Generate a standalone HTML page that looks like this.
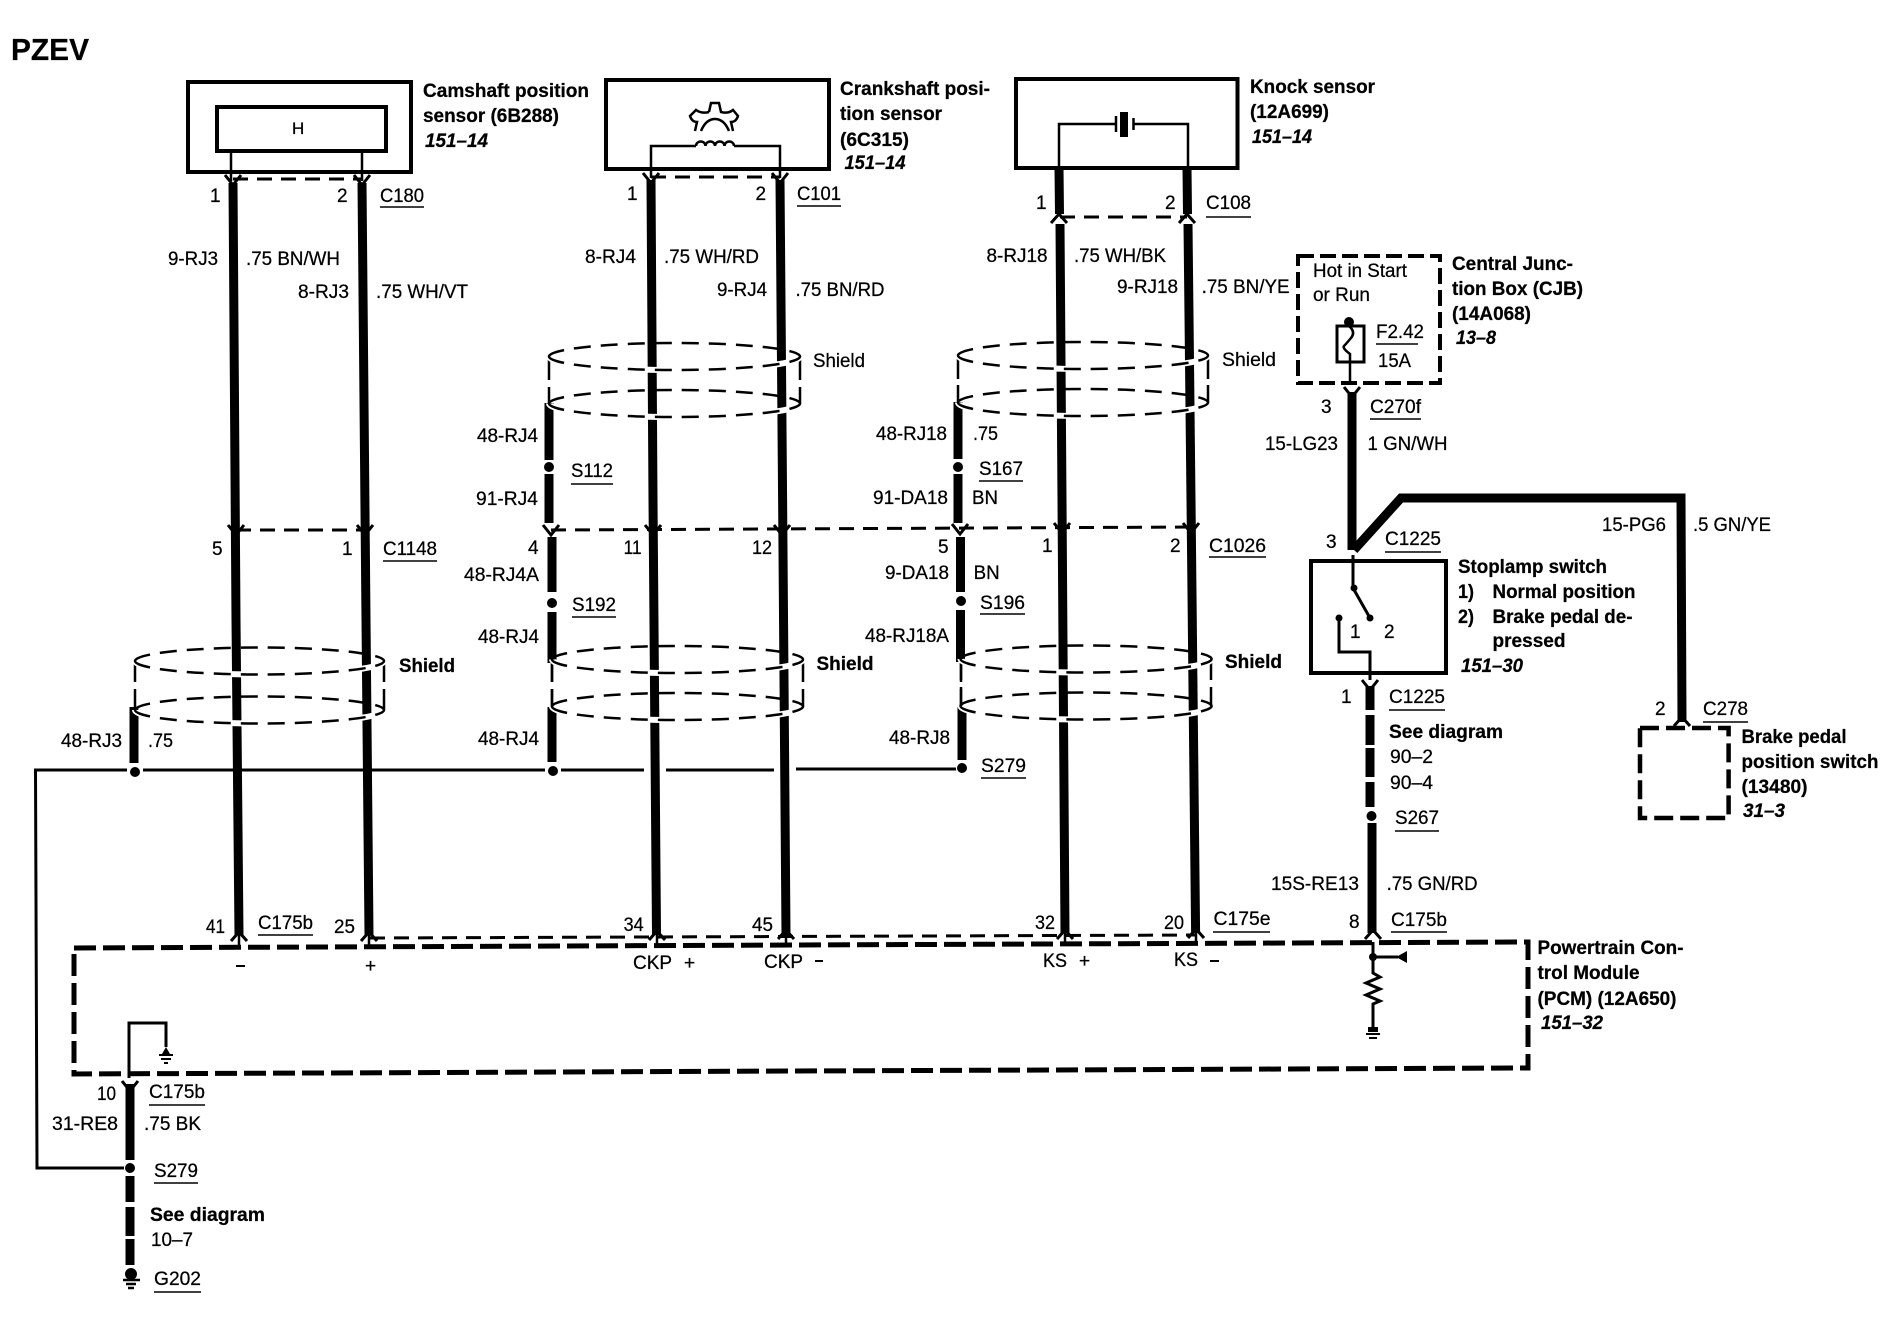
<!DOCTYPE html>
<html><head><meta charset="utf-8"><title>PZEV wiring diagram</title>
<style>
html,body{margin:0;padding:0;background:#fff}
svg{display:block}
text{font-family:"Liberation Sans",sans-serif;font-size:19px;fill:#000;stroke:#000;stroke-width:.25}
.b{font-weight:bold}
.i{font-weight:bold;font-style:italic}
.w{fill:none;stroke:#000;stroke-width:9}
.t{fill:none;stroke:#000;stroke-width:2.5}
.c{fill:none;stroke:#000;stroke-width:3;stroke-dasharray:15 9}
.a{fill:none;stroke:#000;stroke-width:3}
.d{fill:none;stroke:#000;stroke-width:2.5;stroke-dasharray:17 10}
.g{fill:none;stroke:#fff;stroke-width:6}
.u{stroke:#000;stroke-width:1.5}
</style></head><body>
<svg xmlns="http://www.w3.org/2000/svg" width="1896" height="1344" viewBox="0 0 1896 1344">
<rect width="1896" height="1344" fill="#fff"/>

<!-- shield back arcs and side lines -->
<g>
<path class="d" d="M549 356.5A125.5 13.5 0 0 1 800 356.5M549 403.5A125.5 13.5 0 0 1 800 403.5"/>
<path class="t" d="M549 356V380M549 387V404M800 356V380M800 387V404"/>
<path class="d" d="M958 355.5A125 13.5 0 0 1 1208 355.5M958 402.5A125 13.5 0 0 1 1208 402.5"/>
<path class="t" d="M958 356V379M958 385V403M1208 356V379M1208 385V403"/>
<path class="d" d="M135 661A124.500 13.500 0 0 1 384 661M135 710A124.500 13.500 0 0 1 384 710"/>
<path class="t" d="M135 661V682M135 689V710M384 661V682M384 689V710"/>
<path class="d" d="M552 659.500A125.500 13.500 0 0 1 803 659.500M552 706.500A125.500 13.500 0 0 1 803 706.500"/>
<path class="t" d="M552 660V682M552 689V707M803 660V682M803 689V707"/>
<path class="d" d="M960.500 659A125.500 13.500 0 0 1 1211.600 659M960.500 706A125.500 13.500 0 0 1 1211.600 706"/>
<path class="t" d="M961 659V680M961 687V706M1211 659V680M1211 687V706"/>
</g>

<!-- main wires -->
<polyline class="w" points="233,183 236,620 239,935"/>
<polyline class="w" points="362,183 366,620 369,935"/>
<polyline class="w" points="651,180 653,500 656.500,935"/>
<polyline class="w" points="780,180 782.600,500 786,935"/>
<polyline class="w" points="1059,168 1059.500,214"/>
<polyline class="w" points="1187,168 1187.500,214"/>
<polyline class="w" points="1060,224 1062,500 1065,933"/>
<polyline class="w" points="1188,224 1191,500 1195.600,933"/>

<!-- shield stubs -->
<path class="w" d="M134 707V763M549 403V460M549 474V523M552 537V592M552 612V663M552 707V762M958 402V459M958 474V523M960.500 537V592M960.500 610V662M962 707V760"/>
<path class="t" d="M552 663V682M552 689V707M961 663V682M961 689V707"/>
<circle cx="549" cy="467" r="5"/><circle cx="552" cy="603" r="5"/><circle cx="958" cy="467" r="5"/><circle cx="961" cy="601" r="5"/>

<!-- shield front arcs -->
<path class="g" d="M549 356.500A125.500 13.500 0 0 0 800 356.500M549 403.500A125.500 13.500 0 0 0 800 403.500M958 355.500A125 13.500 0 0 0 1208 355.500M958 402.500A125 13.500 0 0 0 1208 402.500M135 661A124.500 13.500 0 0 0 384 661M135 710A124.500 13.500 0 0 0 384 710M552 659.500A125.500 13.500 0 0 0 803 659.500M552 706.500A125.500 13.500 0 0 0 803 706.500M960.500 659A125.500 13.500 0 0 0 1211.600 659M960.500 706A125.500 13.500 0 0 0 1211.600 706"/>
<path class="d" d="M549 356.500A125.500 13.500 0 0 0 800 356.500M549 403.500A125.500 13.500 0 0 0 800 403.500M958 355.500A125 13.500 0 0 0 1208 355.500M958 402.500A125 13.500 0 0 0 1208 402.500M135 661A124.500 13.500 0 0 0 384 661M135 710A124.500 13.500 0 0 0 384 710M552 659.500A125.500 13.500 0 0 0 803 659.500M552 706.500A125.500 13.500 0 0 0 803 706.500M960.500 659A125.500 13.500 0 0 0 1211.600 659M960.500 706A125.500 13.500 0 0 0 1211.600 706"/>

<!-- shield drain bus -->
<path class="t" style="stroke-width:3" d="M124 1168H37L35.500 770H127M143 770H545M561 770H644M666 770H774M796 769H956"/>
<circle cx="135" cy="772" r="5"/><circle cx="553" cy="771" r="5"/><circle cx="962" cy="768" r="5"/>

<!-- sensor boxes -->
<rect x="188" y="82" width="223" height="90" fill="none" stroke="#000" stroke-width="4"/>
<rect x="217" y="107" width="169" height="44" fill="none" stroke="#000" stroke-width="4"/>
<path class="t" d="M231 151V181M362 151V181"/>
<rect x="606" y="80" width="223" height="89" fill="none" stroke="#000" stroke-width="4"/>
<path class="t" d="M651 178V146H696M734 146H780V178"/>
<path class="t" d="M696 146a4.700 4.500 0 0 1 9.500 0a4.700 4.500 0 0 1 9.500 0a4.700 4.500 0 0 1 9.500 0a4.700 4.500 0 0 1 9.500 0"/>
<path class="t" d="M709 112L711 103H719L721 112Q728 114 733 110L738 116Q736 122 731 122L733 131M709 112Q702 114 696 110L690 116Q692 122 697 122L695 131M701 131Q706 119 715 119Q724 119 729 131"/>
<rect x="1016" y="79" width="221.500" height="89" fill="none" stroke="#000" stroke-width="4"/>
<path class="t" d="M1059 168V124H1116M1133.500 124H1188V168M1116 116V132M1133.500 118V130"/>
<rect x="1120" y="112" width="8" height="25"/>

<!-- connectors -->
<path class="c" d="M233 179H362M651 177H780M1060 217H1187M236 530H365M551 530L1195 527M370 938L1196 935"/>
<path class="a" d="M225 175l8 10 8 -10M354 175l8 10 8 -10M643 173l8 10 8 -10M772 173l8 10 8 -10M228 525l8 10 8 -10M357 525l8 10 8 -10M543 525l8 10 8 -10M645 525l8 10 8 -10M774 525l8 10 8 -10M952 524l8 10 8 -10M1054 523l8 10 8 -10M1183 523l8 10 8 -10M1344 387l8 10 8 -10M1362 680l8 10 8 -10M122 1081l8 10 8 -10"/>
<path class="a" d="M1051 223l8 -9 8 9M1179 223l8 -9 8 9M231 941l8 -9 8 9M361 941l8 -9 8 9M649 940l8 -9 8 9M778 939l8 -9 8 9M1057 939l8 -9 8 9M1188 938l8 -9 8 9M1365 939l8 -9 8 9M1674 726l8 -9 8 9"/>
<path class="t" d="M239 935V948M369 935V947M657 935V946M786 935V946M1065 933V945M1196 933V945"/>

<!-- PCM box -->
<polygon points="74,948 1528,942 1528,1068 74,1074" fill="none" stroke="#000" stroke-width="5" stroke-dasharray="22 7"/>
<path class="t" style="stroke-width:3" d="M129 1078V1023H166V1047"/>
<path d="M162 1054l4 -7 4 7z"/><path class="u" style="stroke-width:2" d="M159 1055H173M161 1059H171M164 1063H168"/>
<path class="t" style="stroke-width:3" d="M1373 942V973l7 4 -14 6 14 6 -14 6 14 6 -7 3V1027"/>
<circle cx="1373" cy="957" r="4"/><path class="t" style="stroke-width:3" d="M1373 957H1398"/><polygon points="1396,957 1407,951 1407,963"/>
<rect x="1368" y="1027" width="10" height="5"/><path class="u" style="stroke-width:2" d="M1366 1034H1380M1369 1038H1377"/>

<!-- CJB -->
<rect x="1298" y="256" width="142" height="127" fill="none" stroke="#000" stroke-width="4" stroke-dasharray="16 6"/>
<rect x="1337" y="326" width="27" height="36" fill="none" stroke="#000" stroke-width="3"/>
<circle cx="1349" cy="322" r="5"/>
<path class="t" d="M1349 326q7 6 2 12t-7 8 6 8V384"/>
<path class="w" d="M1352 392V550"/>
<path class="w" d="M1354 550L1401 498H1681L1682 722"/>

<!-- stoplamp -->
<rect x="1311" y="561" width="135" height="112" fill="none" stroke="#000" stroke-width="4"/>
<path class="t" style="stroke-width:3" d="M1353 555V588L1370 618M1339 618V652H1370V680"/>
<circle cx="1354" cy="588" r="3.500"/><circle cx="1370" cy="618" r="3.500"/><circle cx="1339" cy="618" r="3.500"/>
<path class="w" d="M1370 686V710M1370 715V745M1370 748V777M1370 782V807M1372 823V933"/>
<circle cx="1371.500" cy="816" r="5"/>

<!-- brake switch -->
<rect x="1640" y="728" width="88.600" height="90" fill="none" stroke="#000" stroke-width="4.500" stroke-dasharray="19 7"/>

<!-- bottom-left ground wire -->
<path class="w" d="M130 1084V1160M130 1176V1202M130 1207V1236M130 1239V1265"/>
<circle cx="130" cy="1168" r="5"/><circle cx="131" cy="1274" r="6"/>
<path class="u" style="stroke-width:2.500" d="M123 1280H140M126 1284H136M128 1288H134"/>

<!-- underlines -->
<path class="u" d="M380 207H424M797 206H841M1206 217H1251M383 561H437M1209 557H1266M572 617H616M980 614H1025M571 484H613M979 481H1023M981 778H1026M258 935H313M1213 932H1270M1370 419H1421M1385 552H1441M1389 710H1445M1395 831H1439M1391 932H1447M1703 722H1748M149 1105H205M154 1183H198M154 1292H201M1376 344H1418"/>

<!-- minus signs -->
<path class="u" style="stroke-width:2" d="M236 966H245M815 961H823M1210 961H1219"/>

<!-- titles -->
<text class="b" style="font-size:31px" x="11" y="60" textLength="78" lengthAdjust="spacingAndGlyphs">PZEV</text>
<text class="b" x="423" y="97" textLength="166" lengthAdjust="spacingAndGlyphs">Camshaft position</text>
<text class="b" x="423" y="122" textLength="136" lengthAdjust="spacingAndGlyphs">sensor (6B288)</text>
<text class="i" x="425" y="147" textLength="63" lengthAdjust="spacingAndGlyphs">151–14</text>
<text x="292" y="134" style="font-size:17px">H</text>
<text class="b" x="840" y="95" textLength="150" lengthAdjust="spacingAndGlyphs">Crankshaft posi-</text>
<text class="b" x="840" y="120" textLength="102" lengthAdjust="spacingAndGlyphs">tion sensor</text>
<text class="b" x="840" y="146" textLength="69" lengthAdjust="spacingAndGlyphs">(6C315)</text>
<text class="i" x="844.500" y="169" textLength="61" lengthAdjust="spacingAndGlyphs">151–14</text>
<text class="b" x="1250" y="93" textLength="125" lengthAdjust="spacingAndGlyphs">Knock sensor</text>
<text class="b" x="1250" y="118" textLength="79" lengthAdjust="spacingAndGlyphs">(12A699)</text>
<text class="i" x="1252" y="143" textLength="60" lengthAdjust="spacingAndGlyphs">151–14</text>
<text class="b" x="1452" y="270" textLength="121" lengthAdjust="spacingAndGlyphs">Central Junc-</text>
<text class="b" x="1452" y="295" textLength="131" lengthAdjust="spacingAndGlyphs">tion Box (CJB)</text>
<text class="b" x="1452" y="320" textLength="79" lengthAdjust="spacingAndGlyphs">(14A068)</text>
<text class="i" x="1456" y="344" textLength="40" lengthAdjust="spacingAndGlyphs">13–8</text>
<text x="1313" y="277" textLength="94" lengthAdjust="spacingAndGlyphs">Hot in Start</text>
<text x="1313" y="301" textLength="57" lengthAdjust="spacingAndGlyphs">or Run</text>
<text x="1376" y="338" textLength="48" lengthAdjust="spacingAndGlyphs">F2.42</text>
<text x="1378" y="367" textLength="33" lengthAdjust="spacingAndGlyphs">15A</text>
<text class="b" x="1458" y="573" textLength="149" lengthAdjust="spacingAndGlyphs">Stoplamp switch</text>
<text class="b" x="1458" y="598" textLength="16" lengthAdjust="spacingAndGlyphs">1)</text>
<text class="b" x="1492.500" y="598" textLength="143" lengthAdjust="spacingAndGlyphs">Normal position</text>
<text class="b" x="1458" y="623" textLength="16" lengthAdjust="spacingAndGlyphs">2)</text>
<text class="b" x="1492.500" y="623" textLength="140" lengthAdjust="spacingAndGlyphs">Brake pedal de-</text>
<text class="b" x="1492.500" y="647" textLength="73" lengthAdjust="spacingAndGlyphs">pressed</text>
<text class="i" x="1461" y="672" textLength="62" lengthAdjust="spacingAndGlyphs">151–30</text>
<text class="b" x="1537.500" y="954" textLength="146" lengthAdjust="spacingAndGlyphs">Powertrain Con-</text>
<text class="b" x="1537.500" y="979" textLength="102" lengthAdjust="spacingAndGlyphs">trol Module</text>
<text class="b" x="1537.500" y="1005" textLength="139" lengthAdjust="spacingAndGlyphs">(PCM) (12A650)</text>
<text class="i" x="1541" y="1029" textLength="62" lengthAdjust="spacingAndGlyphs">151–32</text>
<text class="b" x="1741.500" y="743" textLength="105" lengthAdjust="spacingAndGlyphs">Brake pedal</text>
<text class="b" x="1741.500" y="768" textLength="137" lengthAdjust="spacingAndGlyphs">position switch</text>
<text class="b" x="1741.500" y="793" textLength="66" lengthAdjust="spacingAndGlyphs">(13480)</text>
<text class="i" x="1743" y="817" textLength="42" lengthAdjust="spacingAndGlyphs">31–3</text>

<!-- column 1 labels -->
<text x="210" y="202">1</text><text x="337" y="202">2</text>
<text x="380" y="202" textLength="44" lengthAdjust="spacingAndGlyphs">C180</text>
<text x="168" y="265" textLength="50" lengthAdjust="spacingAndGlyphs">9-RJ3</text>
<text x="246" y="265" textLength="94" lengthAdjust="spacingAndGlyphs">.75 BN/WH</text>
<text x="298" y="298" textLength="51" lengthAdjust="spacingAndGlyphs">8-RJ3</text>
<text x="376" y="298" textLength="92" lengthAdjust="spacingAndGlyphs">.75 WH/VT</text>
<text x="212" y="555">5</text><text x="342" y="555">1</text>
<text x="383" y="555" textLength="54" lengthAdjust="spacingAndGlyphs">C1148</text>
<text class="b" x="399" y="672" textLength="56" lengthAdjust="spacingAndGlyphs">Shield</text>
<text x="61" y="747" textLength="61" lengthAdjust="spacingAndGlyphs">48-RJ3</text>
<text x="148" y="747" textLength="25" lengthAdjust="spacingAndGlyphs">.75</text>
<text x="206" y="933" textLength="19" lengthAdjust="spacingAndGlyphs">41</text>
<text x="258" y="929" textLength="55" lengthAdjust="spacingAndGlyphs">C175b</text>
<text x="334" y="933" textLength="21" lengthAdjust="spacingAndGlyphs">25</text>
<text x="365" y="972">+</text>

<!-- column 2 labels -->
<text x="627" y="200">1</text><text x="755.500" y="200">2</text>
<text x="797" y="200" textLength="44" lengthAdjust="spacingAndGlyphs">C101</text>
<text x="585" y="263" textLength="51" lengthAdjust="spacingAndGlyphs">8-RJ4</text>
<text x="664" y="263" textLength="95" lengthAdjust="spacingAndGlyphs">.75 WH/RD</text>
<text x="717" y="296" textLength="50" lengthAdjust="spacingAndGlyphs">9-RJ4</text>
<text x="795.500" y="296" textLength="89" lengthAdjust="spacingAndGlyphs">.75 BN/RD</text>
<text x="813" y="367" textLength="52" lengthAdjust="spacingAndGlyphs">Shield</text>
<text x="477" y="442" textLength="61" lengthAdjust="spacingAndGlyphs">48-RJ4</text>
<text x="571" y="477" textLength="42" lengthAdjust="spacingAndGlyphs">S112</text>
<text x="476" y="505" textLength="62" lengthAdjust="spacingAndGlyphs">91-RJ4</text>
<text x="528" y="554">4</text>
<text x="623.600" y="554" textLength="18" lengthAdjust="spacingAndGlyphs">11</text>
<text x="752" y="554" textLength="20" lengthAdjust="spacingAndGlyphs">12</text>
<text x="464" y="581" textLength="75" lengthAdjust="spacingAndGlyphs">48-RJ4A</text>
<text x="572" y="611" textLength="44" lengthAdjust="spacingAndGlyphs">S192</text>
<text x="478" y="643" textLength="61" lengthAdjust="spacingAndGlyphs">48-RJ4</text>
<text class="b" x="816.500" y="670" textLength="57" lengthAdjust="spacingAndGlyphs">Shield</text>
<text x="478" y="745" textLength="61" lengthAdjust="spacingAndGlyphs">48-RJ4</text>
<text x="623.600" y="931" textLength="20" lengthAdjust="spacingAndGlyphs">34</text>
<text x="752" y="931" textLength="21" lengthAdjust="spacingAndGlyphs">45</text>
<text x="633" y="969" textLength="39" lengthAdjust="spacingAndGlyphs">CKP</text><text x="684" y="969">+</text>
<text x="764" y="968" textLength="39" lengthAdjust="spacingAndGlyphs">CKP</text>

<!-- column 3 labels -->
<text x="1036" y="209">1</text><text x="1165" y="209">2</text>
<text x="1206" y="209" textLength="45" lengthAdjust="spacingAndGlyphs">C108</text>
<text x="986.500" y="262" textLength="61" lengthAdjust="spacingAndGlyphs">8-RJ18</text>
<text x="1074" y="262" textLength="92" lengthAdjust="spacingAndGlyphs">.75 WH/BK</text>
<text x="1117" y="293" textLength="61" lengthAdjust="spacingAndGlyphs">9-RJ18</text>
<text x="1201.600" y="293" textLength="88" lengthAdjust="spacingAndGlyphs">.75 BN/YE</text>
<text x="1222" y="366" textLength="54" lengthAdjust="spacingAndGlyphs">Shield</text>
<text x="876" y="440" textLength="71" lengthAdjust="spacingAndGlyphs">48-RJ18</text>
<text x="973" y="440" textLength="25" lengthAdjust="spacingAndGlyphs">.75</text>
<text x="979" y="475" textLength="44" lengthAdjust="spacingAndGlyphs">S167</text>
<text x="873" y="504" textLength="75" lengthAdjust="spacingAndGlyphs">91-DA18</text>
<text x="972" y="504" textLength="26" lengthAdjust="spacingAndGlyphs">BN</text>
<text x="938" y="553">5</text><text x="1042" y="552">1</text><text x="1170" y="552">2</text>
<text x="1209" y="552" textLength="57" lengthAdjust="spacingAndGlyphs">C1026</text>
<text x="885" y="579" textLength="64" lengthAdjust="spacingAndGlyphs">9-DA18</text>
<text x="973.600" y="579" textLength="26" lengthAdjust="spacingAndGlyphs">BN</text>
<text x="980" y="609" textLength="45" lengthAdjust="spacingAndGlyphs">S196</text>
<text x="865" y="642" textLength="84" lengthAdjust="spacingAndGlyphs">48-RJ18A</text>
<text class="b" x="1225" y="668" textLength="57" lengthAdjust="spacingAndGlyphs">Shield</text>
<text x="889" y="744" textLength="61" lengthAdjust="spacingAndGlyphs">48-RJ8</text>
<text x="981" y="772" textLength="45" lengthAdjust="spacingAndGlyphs">S279</text>
<text x="1035" y="929" textLength="20" lengthAdjust="spacingAndGlyphs">32</text>
<text x="1164" y="929" textLength="20" lengthAdjust="spacingAndGlyphs">20</text>
<text x="1213.500" y="925" textLength="57" lengthAdjust="spacingAndGlyphs">C175e</text>
<text x="1043" y="967" textLength="24" lengthAdjust="spacingAndGlyphs">KS</text><text x="1079" y="967">+</text>
<text x="1174" y="966" textLength="24" lengthAdjust="spacingAndGlyphs">KS</text>

<!-- right column labels -->
<text x="1321" y="413">3</text>
<text x="1370" y="413" textLength="51" lengthAdjust="spacingAndGlyphs">C270f</text>
<text x="1265" y="450" textLength="73" lengthAdjust="spacingAndGlyphs">15-LG23</text>
<text x="1367.500" y="450" textLength="80" lengthAdjust="spacingAndGlyphs">1 GN/WH</text>
<text x="1602" y="531" textLength="64" lengthAdjust="spacingAndGlyphs">15-PG6</text>
<text x="1693" y="531" textLength="78" lengthAdjust="spacingAndGlyphs">.5 GN/YE</text>
<text x="1326" y="548">3</text>
<text x="1385" y="545" textLength="56" lengthAdjust="spacingAndGlyphs">C1225</text>
<text x="1350" y="638">1</text><text x="1384" y="638">2</text>
<text x="1341" y="703">1</text>
<text x="1389" y="703" textLength="56" lengthAdjust="spacingAndGlyphs">C1225</text>
<text class="b" x="1389" y="738" textLength="114" lengthAdjust="spacingAndGlyphs">See diagram</text>
<text x="1390" y="763" textLength="43" lengthAdjust="spacingAndGlyphs">90–2</text>
<text x="1390" y="789" textLength="43" lengthAdjust="spacingAndGlyphs">90–4</text>
<text x="1395" y="824" textLength="44" lengthAdjust="spacingAndGlyphs">S267</text>
<text x="1271" y="890" textLength="88" lengthAdjust="spacingAndGlyphs">15S-RE13</text>
<text x="1386.600" y="890" textLength="91" lengthAdjust="spacingAndGlyphs">.75 GN/RD</text>
<text x="1349" y="928">8</text>
<text x="1391" y="926" textLength="56" lengthAdjust="spacingAndGlyphs">C175b</text>
<text x="1655" y="715">2</text>
<text x="1703" y="715" textLength="45" lengthAdjust="spacingAndGlyphs">C278</text>

<!-- bottom-left labels -->
<text x="97" y="1100" textLength="19" lengthAdjust="spacingAndGlyphs">10</text>
<text x="149" y="1098" textLength="56" lengthAdjust="spacingAndGlyphs">C175b</text>
<text x="52" y="1130" textLength="66" lengthAdjust="spacingAndGlyphs">31-RE8</text>
<text x="144" y="1130" textLength="57" lengthAdjust="spacingAndGlyphs">.75 BK</text>
<text x="154" y="1177" textLength="44" lengthAdjust="spacingAndGlyphs">S279</text>
<text class="b" x="150" y="1221" textLength="115" lengthAdjust="spacingAndGlyphs">See diagram</text>
<text x="151" y="1246" textLength="42" lengthAdjust="spacingAndGlyphs">10–7</text>
<text x="154" y="1285" textLength="47" lengthAdjust="spacingAndGlyphs">G202</text>
</svg>
</body></html>
